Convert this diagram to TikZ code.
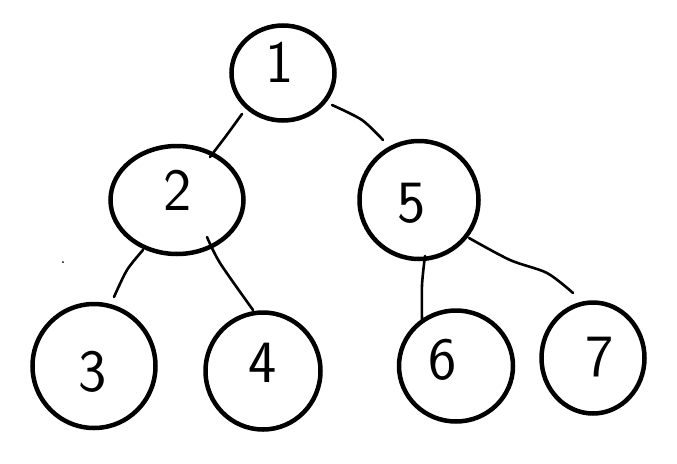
\documentclass[tikz,border=0pt]{standalone}
\usetikzlibrary{shapes.geometric}
\begin{document}
\begin{tikzpicture}[x=1pt,y=-1pt,
  ring/.style={draw,ellipse,line width=4.5pt,inner sep=0pt},
  digit/.style={font=\fontsize{60}{60}\sffamily,inner sep=0pt},
  wire/.style={line width=2.6pt,line cap=round,line join=round}]
\useasboundingbox (0,0) rectangle (677,463);
\fill[white] (0,0) rectangle (677,463);
% circles
\node[ring,minimum width=103pt,minimum height=95pt] (c1) at (283,73) {};
\node[ring,minimum width=133pt,minimum height=108pt] (c2) at (177,200) {};
\node[ring,minimum width=119pt,minimum height=118pt] (c5) at (419,200) {};
\node[ring,minimum width=123pt,minimum height=124pt] (c3) at (94,366) {};
\node[ring,minimum width=115pt,minimum height=117pt] (c4) at (263,371) {};
\node[ring,minimum width=114pt,minimum height=111pt] (c6) at (456,366) {};
\node[ring,minimum width=103pt,minimum height=111pt] (c7) at (593,358) {};
% digits
\node[digit] (t1) at (280,62) {1};
\node[digit] (t2) at (178,190) {2};
\node[digit] (t3) at (93,372) {3};
\node[digit] (t4) at (263,363) {4};
\node[digit] (t5) at (412,203) {5};
\node[digit] (t6) at (443,360) {6};
\node[digit] (t7) at (600,357) {7};
% edge end points
\coordinate (a12) at (242,114); \coordinate (m12) at (226,136); \coordinate (b12) at (210,157);
\coordinate (a15) at (332,105); \coordinate (m15) at (362,120); \coordinate (b15) at (383,140);
\coordinate (a23) at (143,250); \coordinate (m23) at (127,270); \coordinate (b23) at (114,297);
\coordinate (a24) at (207,237); \coordinate (m24) at (220,263); \coordinate (b24) at (253,310);
\coordinate (a56) at (425,256); \coordinate (m56) at (422,285); \coordinate (b56) at (422,320);
\coordinate (a57) at (469,238); \coordinate (m57) at (510,260); \coordinate (n57) at (547,273); \coordinate (b57) at (573,293);
% edges
\draw[wire] plot[smooth] coordinates {(a12) (m12) (b12)};
\draw[wire] plot[smooth] coordinates {(a15) (m15) (b15)};
\draw[wire] plot[smooth] coordinates {(a23) (m23) (b23)};
\draw[wire] plot[smooth] coordinates {(a24) (m24) (b24)};
\draw[wire] plot[smooth] coordinates {(a56) (m56) (b56)};
\draw[wire] plot[smooth] coordinates {(a57) (m57) (n57) (b57)};
% stray dot
\fill (63,262) circle (1pt);
\end{tikzpicture}
\end{document}
